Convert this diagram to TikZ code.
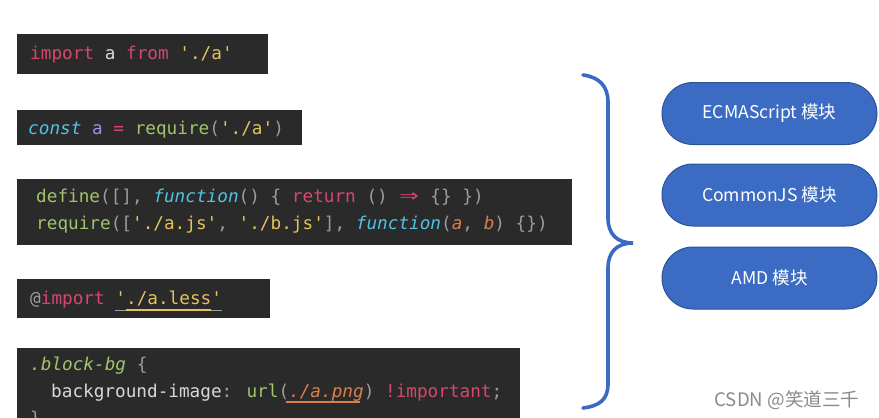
\documentclass[tikz,border=0pt]{standalone}
\usepackage{fontspec}
\usepackage{graphicx}
\newfontfamily\codefont{DejaVu Sans Mono}[Ligatures=TeXOff]
\newfontfamily\cjkfont{Noto Sans CJK SC}
\definecolor{codebg}{HTML}{2A2A2A}
\definecolor{cpink}{HTML}{D6476F}
\definecolor{cfg}{HTML}{D8D8D8}
\definecolor{cgray}{HTML}{9C9C9C}
\definecolor{cyel}{HTML}{E6C25C}
\definecolor{ccyan}{HTML}{4FC3E2}
\definecolor{cpurple}{HTML}{AA8BE2}
\definecolor{cgreen}{HTML}{A2C46A}
\definecolor{corange}{HTML}{D8804C}
\definecolor{braceblue}{HTML}{3A6AC2}
\definecolor{pillblue}{HTML}{3B6BC2}
\definecolor{pillborder}{HTML}{2C5398}
\definecolor{wmgray}{HTML}{8A8A8A}
\newcommand\cc[2]{\textcolor{#1}{#2}}
\tikzset{
  codebox/.style={fill=codebg, draw=none, inner sep=0pt, anchor=north west},
  codeline/.style={font=\codefont\fontsize{17.7}{20}\selectfont, inner sep=0pt, anchor=base west, text=cfg},
  pill/.style={fill=pillblue, draw=pillborder, line width=1pt, rounded corners=31pt,
    minimum width=215pt, minimum height=62pt, text=white, inner sep=0pt,
    font=\cjkfont\fontsize{17.6}{20}\selectfont},
  bracestyle/.style={draw=braceblue, line width=3.6pt, line cap=round},
}
\begin{document}
\begin{tikzpicture}[x=1pt,y=-1pt]
\useasboundingbox (0,0) rectangle (879,418);
\clip (0,0) rectangle (879,418);
\fill[white] (0,0) rectangle (879,418);

% code boxes
\node[codebox, minimum width=251pt, minimum height=40pt] (b1) at (17,34) {};
\node[codebox, minimum width=285pt, minimum height=35pt] (b2) at (17,110) {};
\node[codebox, minimum width=555pt, minimum height=66pt] (b3) at (17,179) {};
\node[codebox, minimum width=253pt, minimum height=39pt] (b4) at (17,279) {};
\node[codebox, minimum width=503pt, minimum height=75pt] (b5) at (17,348) {};

% code text
\node[codeline] (l1) at (30,59) {\cc{cpink}{import} \cc{cfg}{a} \cc{cpink}{from} \cc{cyel}{'./a'}};
\node[codeline] (l2) at (28,134) {\cc{ccyan}{\itshape const} \cc{cpurple}{a} \cc{cpink}{=} \cc{cgreen}{require}\cc{cgray}{(}\cc{cyel}{'./a'}\cc{cgray}{)}};
\node[codeline] (l3a) at (36,202) {\cc{cgreen}{define}\cc{cgray}{([],} \cc{ccyan}{\itshape function}\cc{cgray}{() \{} \cc{cpink}{return} \cc{cgray}{()} \cc{cpink}{\makebox[1.204em]{\scalebox{1.8}[1.25]{⇒}}} \cc{cgray}{\{\} \})}};
\node[codeline] (l3b) at (36,229) {\cc{cgreen}{require}\cc{cgray}{([}\cc{cyel}{'./a.js'}\cc{cgray}{,} \cc{cyel}{'./b.js'}\cc{cgray}{],} \cc{ccyan}{\itshape function}\cc{cgray}{(}\cc{corange}{\itshape a}\cc{cgray}{,} \cc{corange}{\itshape b}\cc{cgray}{) \{\})}};
\node[codeline] (l4) at (30,304) {\cc{cgray}{@}\cc{cpink}{import} \cc{cyel}{'./a.less'}};
\draw[cgray, line width=1pt] (115,310) -- (222,310);
\draw[cyel, line width=1.3pt] (126,310) -- (211,310);
\node[codeline] (l5a) at (30,370) {\cc{cgreen}{\itshape .block-bg} \cc{cgray}{\{}};
\node[codeline] (l5b) at (51,397) {\cc{cfg}{background-image}\cc{cgray}{:} \cc{cgreen}{url}\cc{cgray}{(}\cc{corange}{\itshape ./a.png}\cc{cgray}{)} \cc{cpink}{!important}\cc{cgray}{;}};
\draw[corange, line width=1.3pt] (286,402) -- (360,402);
\node[codeline] (l5c) at (30,424) {\cc{cgray}{\}}};

% brace
\draw[bracestyle] (583,75) .. controls (599,77) and (608,86) .. (608,102)
  -- (608,218) .. controls (608,234) and (617,243) .. (633,243)
  .. controls (617,243) and (608,252) .. (608,268)
  -- (608,384) .. controls (608,400) and (599,406) .. (583,408);

% pills
\node[pill] (p1) at (769.5,113.5) {ECMAScript 模块};
\node[pill] (p2) at (769.5,195) {CommonJS 模块};
\node[pill] (p3) at (769.5,278) {AMD 模块};

% watermark
\node[font=\cjkfont\fontsize{18.6}{20}\selectfont, text=wmgray, inner sep=0pt] (wm) at (787,400) {CSDN @笑道三千};
\end{tikzpicture}
\end{document}
